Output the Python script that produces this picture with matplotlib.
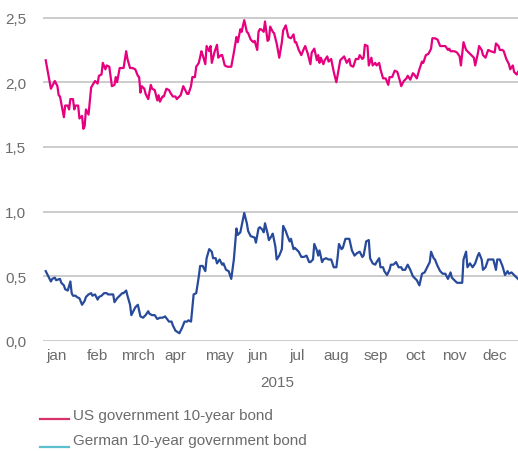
import matplotlib
matplotlib.use("Agg")
import matplotlib.pyplot as plt
from matplotlib.lines import Line2D

# day of year 2015 and yield in percent
us_days = [1, 5, 6, 8, 10, 11, 12, 15, 16, 18, 19, 20, 22, 23, 24, 26, 27, 29, 30, 31,
           32, 34, 36, 39, 41, 42, 44, 45, 47, 48, 50, 52, 54, 55, 56, 58, 60, 61, 63, 64,
           66, 68, 70, 72, 73, 74, 75, 77, 78, 80, 82, 83, 85, 87, 88, 89, 91, 92, 94, 96,
           97, 99, 101, 102, 105, 107, 108, 110, 111, 113, 114, 116, 117, 119, 121, 122, 124, 125, 127, 128,
           129, 131, 133, 134, 136, 137, 139, 141, 144, 146, 148, 149, 151, 152, 154, 156, 157, 159, 161, 162,
           164, 165, 166, 167, 169, 170, 172, 173, 174, 176, 177, 179, 181, 183, 184, 186, 188, 190, 192, 193,
           194, 196, 198, 200, 201, 203, 205, 206, 208, 210, 211, 212, 213, 215, 216, 218, 219, 221, 223, 225,
           228, 229, 231, 233, 235, 236, 238, 240, 242, 243, 245, 246, 247, 249, 250, 252, 253, 255, 256, 258,
           259, 261, 263, 265, 266, 268, 270, 272, 274, 275, 277, 279, 280, 282, 284, 285, 287, 289, 291, 292,
           294, 296, 298, 299, 301, 303, 305, 307, 309, 311, 312, 313, 316, 318, 320, 321, 323, 325, 327, 329,
           331, 332, 334, 335, 337, 338, 340, 342, 344, 347, 348, 350, 351, 353, 354, 356, 358, 359, 361, 362,
           364, 365]
us_yield = [2.17, 1.95, 1.97, 2.01, 1.97, 1.90, 1.89, 1.73, 1.82, 1.82, 1.79, 1.87, 1.87, 1.79, 1.82, 1.82, 1.72, 1.74, 1.64, 1.66,
            1.79, 1.75, 1.96, 2.01, 1.99, 2.05, 2.06, 2.15, 2.10, 2.13, 2.12, 1.97, 1.98, 2.04, 2.00, 2.11, 2.11, 2.11, 2.24, 2.18,
            2.11, 2.11, 2.10, 2.05, 2.04, 1.92, 1.97, 1.95, 1.91, 1.87, 1.98, 1.95, 1.94, 1.86, 1.90, 1.85, 1.89, 1.89, 1.95, 1.94,
            1.92, 1.89, 1.89, 1.87, 1.90, 1.97, 1.95, 1.91, 1.91, 1.97, 2.04, 2.04, 2.12, 2.15, 2.24, 2.21, 2.14, 2.28, 2.24, 2.28,
            2.15, 2.23, 2.29, 2.19, 2.21, 2.21, 2.13, 2.12, 2.12, 2.23, 2.35, 2.31, 2.41, 2.39, 2.48, 2.39, 2.38, 2.33, 2.31, 2.32,
            2.25, 2.39, 2.41, 2.41, 2.39, 2.47, 2.32, 2.33, 2.43, 2.39, 2.38, 2.30, 2.19, 2.31, 2.40, 2.44, 2.35, 2.34, 2.37, 2.31,
            2.31, 2.25, 2.21, 2.26, 2.28, 2.22, 2.14, 2.23, 2.26, 2.17, 2.21, 2.15, 2.19, 2.14, 2.17, 2.20, 2.16, 2.18, 2.08, 2.00,
            2.17, 2.18, 2.20, 2.15, 2.18, 2.13, 2.12, 2.18, 2.18, 2.21, 2.18, 2.19, 2.29, 2.28, 2.13, 2.19, 2.13, 2.15, 2.13, 2.15,
            2.10, 2.03, 2.03, 1.98, 2.04, 2.04, 2.09, 2.08, 2.01, 1.97, 2.01, 2.03, 2.05, 2.02, 2.07, 2.06, 2.03, 2.10, 2.16, 2.15,
            2.21, 2.22, 2.26, 2.34, 2.34, 2.33, 2.28, 2.28, 2.28, 2.25, 2.26, 2.24, 2.24, 2.23, 2.20, 2.13, 2.31, 2.25, 2.23, 2.21,
            2.19, 2.13, 2.22, 2.28, 2.25, 2.21, 2.19, 2.25, 2.24, 2.23, 2.30, 2.28, 2.25, 2.25, 2.24, 2.18, 2.14, 2.10, 2.13, 2.08,
            2.06, 2.08]

de_days = [1, 3, 5, 6, 8, 9, 12, 13, 15, 16, 18, 20, 21, 22, 24, 25, 27, 29, 31, 32,
           34, 36, 37, 39, 41, 42, 44, 46, 48, 49, 51, 53, 54, 56, 58, 60, 61, 63, 64, 66,
           67, 69, 70, 72, 74, 76, 78, 80, 81, 83, 85, 87, 89, 91, 93, 96, 98, 99, 101, 104,
           106, 108, 110, 111, 113, 115, 117, 119, 120, 122, 124, 125, 127, 129, 130, 132, 133, 135, 137, 138,
           140, 142, 144, 146, 148, 149, 151, 154, 156, 157, 159, 162, 163, 165, 166, 168, 169, 170, 172, 173,
           175, 176, 178, 179, 181, 183, 184, 186, 187, 189, 190, 192, 193, 195, 196, 198, 200, 202, 204, 205,
           207, 208, 210, 211, 212, 214, 215, 217, 219, 221, 223, 225, 226, 227, 229, 230, 232, 233, 235, 237,
           239, 241, 243, 245, 246, 248, 250, 251, 253, 255, 256, 258, 259, 261, 262, 264, 266, 267, 269, 271,
           273, 275, 276, 278, 280, 282, 284, 286, 287, 289, 291, 293, 295, 297, 298, 300, 301, 303, 305, 307,
           309, 311, 313, 314, 316, 318, 320, 322, 323, 325, 326, 328, 330, 332, 334, 335, 337, 338, 340, 342,
           344, 346, 348, 349, 351, 353, 355, 357, 358, 360, 361, 363, 365]
de_yield = [0.54, 0.50, 0.46, 0.48, 0.49, 0.47, 0.48, 0.45, 0.43, 0.40, 0.39, 0.46, 0.37, 0.35, 0.35, 0.34, 0.33, 0.28, 0.31, 0.34,
            0.36, 0.37, 0.35, 0.36, 0.32, 0.34, 0.35, 0.37, 0.37, 0.36, 0.36, 0.36, 0.30, 0.33, 0.35, 0.37, 0.37, 0.39, 0.35, 0.28,
            0.20, 0.24, 0.26, 0.28, 0.19, 0.18, 0.20, 0.23, 0.21, 0.20, 0.20, 0.17, 0.18, 0.18, 0.19, 0.15, 0.15, 0.12, 0.08, 0.06,
            0.10, 0.15, 0.15, 0.16, 0.15, 0.36, 0.37, 0.50, 0.58, 0.58, 0.54, 0.64, 0.71, 0.69, 0.64, 0.64, 0.60, 0.63, 0.59, 0.60,
            0.55, 0.54, 0.48, 0.63, 0.87, 0.82, 0.84, 0.99, 0.91, 0.85, 0.81, 0.80, 0.76, 0.87, 0.88, 0.86, 0.84, 0.91, 0.83, 0.78,
            0.81, 0.83, 0.73, 0.63, 0.66, 0.71, 0.89, 0.85, 0.82, 0.77, 0.79, 0.71, 0.72, 0.70, 0.69, 0.65, 0.65, 0.66, 0.61, 0.61,
            0.63, 0.75, 0.70, 0.66, 0.70, 0.61, 0.63, 0.64, 0.63, 0.63, 0.57, 0.57, 0.65, 0.75, 0.71, 0.72, 0.79, 0.79, 0.79, 0.70,
            0.66, 0.68, 0.69, 0.65, 0.66, 0.77, 0.78, 0.64, 0.60, 0.59, 0.61, 0.64, 0.57, 0.57, 0.54, 0.51, 0.55, 0.59, 0.59, 0.61,
            0.57, 0.57, 0.55, 0.55, 0.59, 0.55, 0.50, 0.48, 0.47, 0.43, 0.52, 0.53, 0.57, 0.61, 0.69, 0.64, 0.63, 0.58, 0.54, 0.52,
            0.52, 0.48, 0.53, 0.49, 0.47, 0.45, 0.45, 0.45, 0.63, 0.69, 0.57, 0.60, 0.57, 0.60, 0.66, 0.68, 0.63, 0.55, 0.57, 0.63,
            0.63, 0.63, 0.55, 0.63, 0.63, 0.58, 0.51, 0.54, 0.52, 0.53, 0.52, 0.50, 0.48]

month_labels = ["jan", "feb", "mrch", "apr", "may", "jun", "jul", "aug", "sep", "oct", "nov", "dec"]
month_ticks = [9, 41, 72, 101, 135, 164, 195, 225, 255, 286, 316, 347]
y_ticks = [0.0, 0.5, 1.0, 1.5, 2.0, 2.5]
series_labels = ["US government 10-year bond", "German 10-year government bond"]

pink = "#e6007e"
blue = "#274a9b"
grey_text = "#6b6b6b"

plt.rcParams["font.family"] = ["Liberation Sans", "DejaVu Sans"]

fig = plt.figure(figsize=(5.18, 4.52), dpi=100)
W, H = 518, 452
ax = fig.add_axes([43 / W, (H - 342) / H, 475 / W, (342 - 16) / H])

for yv in y_ticks:
    ax.axhline(yv, color="#c8c8c8", lw=1.3, zorder=1)

ax.plot(us_days, us_yield, color=pink, lw=1.6, zorder=3)
ax.plot(de_days, de_yield, color=blue, lw=1.6, zorder=3)

ax.set_xlim(-1.1, 365)
ax.set_ylim(0, 2.52)
ax.set_yticks(y_ticks)
ax.set_yticklabels([f"{v:.1f}".replace(".", ",") for v in y_ticks])
ax.set_xticks(month_ticks)
ax.set_xticklabels(month_labels)
ax.tick_params(axis="both", length=0, labelsize=11, colors=grey_text)
ax.tick_params(axis="y", pad=12)
ax.tick_params(axis="x", pad=5)
for s in ax.spines.values():
    s.set_visible(False)

fig.text(277 / W, 1 - 383 / H, "2015", ha="center", va="center", fontsize=11, color=grey_text)

# legend drawn by hand
legend_colors = ["#d6336c", "#5bbfcf"]
for i, (lab, c) in enumerate(zip(series_labels, legend_colors)):
    y_line = 1 - (420 + i * 27.5) / H
    y_text = 1 - (416 + i * 25) / H
    fig.add_artist(Line2D([40 / W, 69 / W], [y_line, y_line], color=c, lw=1.6,
                          transform=fig.transFigure))
    fig.text(73 / W, y_text, lab, ha="left", va="center", fontsize=11, color=grey_text)

fig.savefig("out.png", dpi=100)
